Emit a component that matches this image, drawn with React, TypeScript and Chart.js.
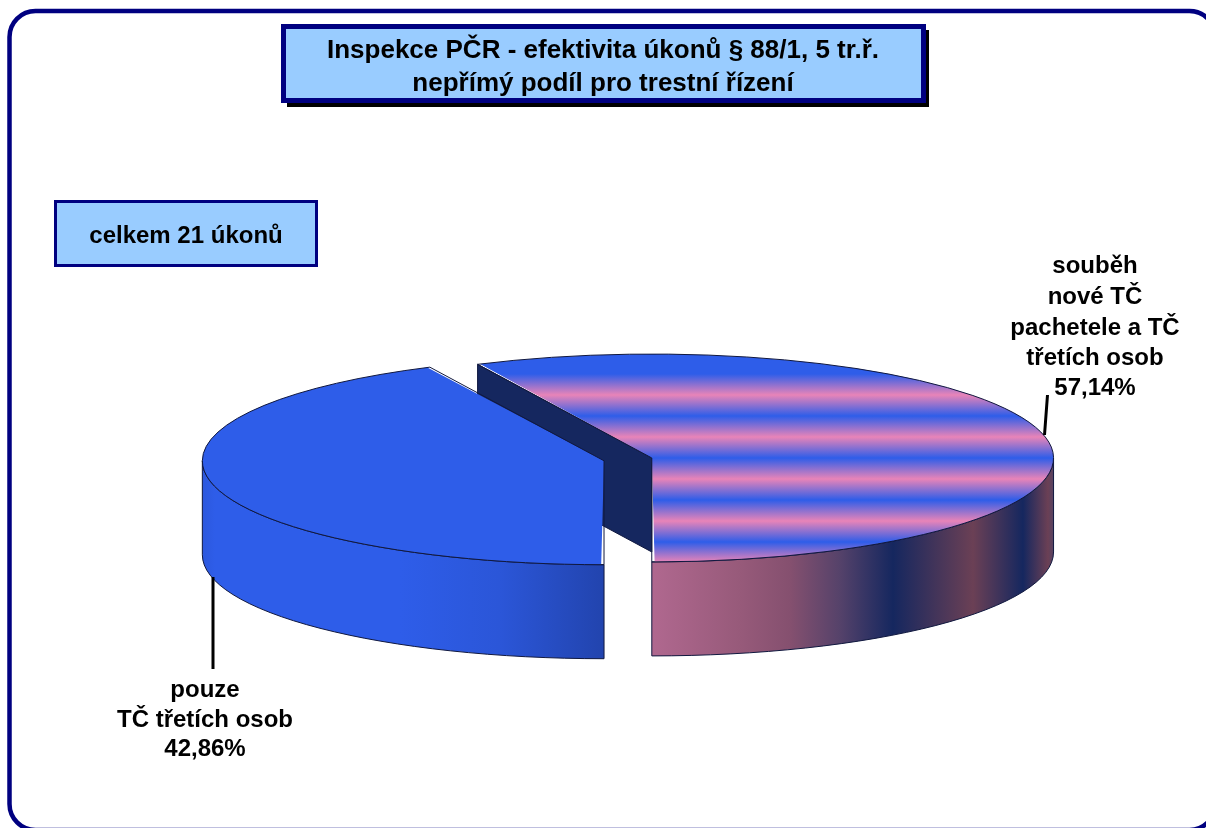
import React, { useEffect, useRef } from "react";
import { Chart, registerables } from "chart.js";

Chart.register(...registerables);

const WIDTH = 1206;
const HEIGHT = 828;

const titleLines = ["Inspekce PČR - efektivita úkonů § 88/1, 5 tr.ř.", "nepřímý podíl pro trestní řízení"];
const countLabel = "celkem 21 úkonů";
const categories = ["souběh nové TČ pachetele a TČ třetích osob", "pouze TČ třetích osob"];
const categoryLines = [
  ["souběh", "nové TČ", "pachetele a TČ", "třetích osob"],
  ["pouze", "TČ třetích osob"],
];
const shares = [57.14, 42.86];

const FONT = '"Liberation Sans", Arial, sans-serif';
const NAVY = "#000080";
const BOX = "#99CCFF";
const BLUE = "#2E5DE9";
const PINK = "#E884B8";
const CUT = "#15275F";

const K = 0.2587; // pie tilt
const DEPTH = 94;
const TOP_Y = 459;

const stripeY = [355, 375, 396, 417, 438, 459, 480, 501, 522, 543, 563];
const wallRight: [number, string][] = [
  [652, "#B0688F"], [740, "#975A7A"], [790, "#85506F"], [840, "#55426A"], [893, "#15275F"],
  [973, "#6B4055"], [1023, "#15275F"], [1048, "#6B4055"], [1056, "#4E4468"],
];
const wallLeft: [number, string][] = [
  [203, "#2C58DE"], [215, "#2E5DE9"], [400, "#2E5DE9"], [500, "#2B56D8"], [604, "#2244AE"],
];

function hGrad(ctx: CanvasRenderingContext2D, stops: [number, string][]) {
  const x0 = stops[0][0];
  const x1 = stops[stops.length - 1][0];
  const g = ctx.createLinearGradient(x0, 0, x1, 0);
  stops.forEach(([x, c]) => g.addColorStop((x - x0) / (x1 - x0), c));
  return g;
}

function arcGeom(chart: any, i: number) {
  const el = chart.getDatasetMeta(0).data[i];
  const offset = (el.options.offset || 0) / 4;
  const mid = (el.startAngle + el.endAngle) / 2;
  const circ = el.endAngle - el.startAngle;
  const fix = 1 - Math.sin(Math.min(Math.PI, circ));
  const r = el.outerRadius + offset * fix;
  const cx = el.x + Math.cos(mid) * offset;
  const cy = TOP_Y + Math.sin(mid) * offset * K;
  return { cx, cy, r, ry: r * K, start: el.startAngle, end: el.endAngle };
}

function drawBox(ctx: CanvasRenderingContext2D, x: number, y: number, w: number, h: number, lw: number) {
  ctx.fillStyle = BOX;
  ctx.fillRect(x, y, w, h);
  ctx.strokeStyle = NAVY;
  ctx.lineWidth = lw;
  ctx.strokeRect(x, y, w, h);
}

function centered(ctx: CanvasRenderingContext2D, lines: string[], x: number, ys: number[], font: string) {
  ctx.font = font;
  ctx.fillStyle = "#000";
  ctx.textAlign = "center";
  ctx.textBaseline = "alphabetic";
  lines.forEach((t, i) => ctx.fillText(t, x, ys[i]));
}

const pie3d = {
  id: "pie3d",
  beforeDraw(chart: any) {
    const ctx: CanvasRenderingContext2D = chart.ctx;
    ctx.save();
    ctx.fillStyle = "#fff";
    ctx.fillRect(0, 0, WIDTH, HEIGHT);
    ctx.strokeStyle = NAVY;
    ctx.lineWidth = 4.5;
    ctx.beginPath();
    ctx.roundRect(9.5, 11, 1206, 819, 26);
    ctx.stroke();
    // title box
    ctx.fillStyle = "#000";
    ctx.fillRect(287, 30, 642, 77);
    drawBox(ctx, 283.5, 26.5, 640, 74, 5);
    centered(ctx, titleLines, 603, [58, 91], `bold 26px ${FONT}`);
    // count box
    drawBox(ctx, 55.5, 201.5, 261, 64, 3);
    centered(ctx, [countLabel], 186, [243], `bold 24px ${FONT}`);
    ctx.restore();
  },
  beforeDatasetsDraw(chart: any) {
    const ctx: CanvasRenderingContext2D = chart.ctx;
    const right = arcGeom(chart, 0);
    const left = arcGeom(chart, 1);
    ctx.save();
    ctx.strokeStyle = "#10183F";
    ctx.lineWidth = 1;
    // cut face of the larger slice
    const rimX = right.cx + Math.cos(right.start) * right.r;
    const rimY = right.cy + Math.sin(right.start) * right.ry;
    ctx.beginPath();
    ctx.moveTo(right.cx, right.cy);
    ctx.lineTo(rimX, rimY);
    ctx.lineTo(rimX, rimY + DEPTH);
    ctx.lineTo(right.cx, right.cy + DEPTH);
    ctx.closePath();
    ctx.fillStyle = CUT;
    ctx.fill();
    ctx.stroke();
    // outer walls
    const walls = [
      { g: left, a0: Math.PI / 2, a1: Math.PI, fill: hGrad(ctx, wallLeft) },
      { g: right, a0: 0, a1: Math.PI / 2, fill: hGrad(ctx, wallRight) },
    ];
    walls.forEach(({ g, a0, a1, fill }) => {
      ctx.beginPath();
      ctx.ellipse(g.cx, g.cy, g.r, g.ry, 0, a0, a1);
      ctx.ellipse(g.cx, g.cy + DEPTH, g.r, g.ry, 0, a1, a0, true);
      ctx.closePath();
      ctx.fillStyle = fill;
      ctx.fill();
      ctx.stroke();
    });
    ctx.restore();
    // squash the library's arcs into the tilted plane
    const el = chart.getDatasetMeta(0).data[0];
    ctx.save();
    ctx.translate(0, TOP_Y);
    ctx.scale(1, K);
    ctx.translate(0, -el.y);
  },
  afterDatasetsDraw(chart: any) {
    const ctx: CanvasRenderingContext2D = chart.ctx;
    ctx.restore();
    ctx.save();
    ctx.strokeStyle = "#10183F";
    ctx.lineWidth = 1;
    [0, 1].forEach((i) => {
      const g = arcGeom(chart, i);
      ctx.beginPath();
      ctx.moveTo(g.cx, g.cy);
      ctx.ellipse(g.cx, g.cy, g.r, g.ry, 0, g.start, g.end);
      ctx.closePath();
      ctx.stroke();
    });
    // leader lines
    ctx.strokeStyle = "#000";
    ctx.lineWidth = 3;
    ctx.beginPath();
    ctx.moveTo(213, 577);
    ctx.lineTo(213, 669);
    ctx.moveTo(1047.5, 395);
    ctx.lineTo(1044.5, 435);
    ctx.stroke();
    // data labels
    const pct = shares.map((v) => v.toFixed(2).replace(".", ",") + "%");
    centered(ctx, [...categoryLines[0], pct[0]], 1095, [273, 304, 335, 365, 395], `bold 24px ${FONT}`);
    centered(ctx, [...categoryLines[1], pct[1]], 205, [697, 727, 756], `bold 24px ${FONT}`);
    ctx.restore();
  },
};

export default function App() {
  const ref = useRef<HTMLCanvasElement>(null);
  useEffect(() => {
    const canvas = ref.current!;
    const ctx = canvas.getContext("2d")!;
    const toData = (y: number) => HEIGHT / 2 + (y - TOP_Y) / K;
    const y0 = toData(stripeY[0]);
    const y1 = toData(stripeY[stripeY.length - 1]);
    const stripes = ctx.createLinearGradient(0, y0, 0, y1);
    stripeY.forEach((y, i) => {
      const isBlue = i < 2 || i % 2 === 1;
      stripes.addColorStop((toData(y) - y0) / (y1 - y0), isBlue ? BLUE : PINK);
    });
    const chart = new Chart(canvas, {
      type: "pie",
      data: {
        labels: categories,
        datasets: [
          {
            data: shares,
            backgroundColor: [stripes, BLUE],
            borderWidth: 0,
            offset: [71, 125],
            radius: 384,
          } as any,
        ],
      },
      options: {
        responsive: false,
        animation: false,
        events: [],
        rotation: -25.7,
        layout: { padding: { left: 63 } },
        plugins: { legend: { display: false }, tooltip: { enabled: false } },
      },
      plugins: [pie3d],
    });
    return () => chart.destroy();
  }, []);
  return (
    <canvas
      ref={ref}
      width={WIDTH}
      height={HEIGHT}
      style={{ position: "fixed", left: 0, top: 0, display: "block" }}
    />
  );
}
